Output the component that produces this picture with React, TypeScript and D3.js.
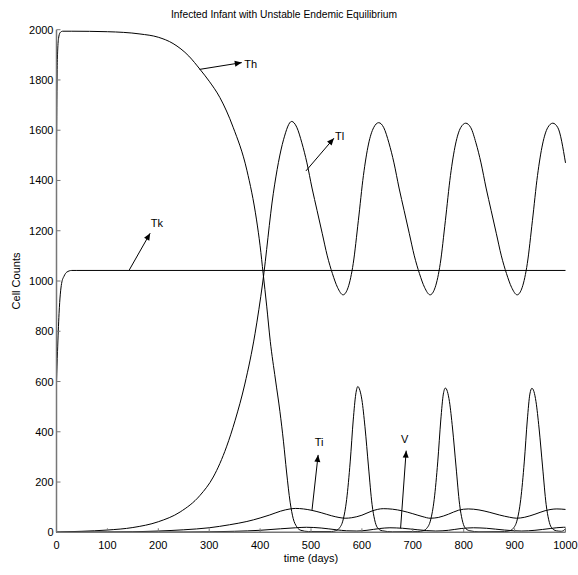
import React from "react";
import * as d3 from "d3";

const W = 578;
const H = 575;

const xTicks = [0, 100, 200, 300, 400, 500, 600, 700, 800, 900, 1000];
const yTicks = [0, 200, 400, 600, 800, 1000, 1200, 1400, 1600, 1800, 2000];

// Th (helper T cells)
const thDays = [0, 1, 2, 4, 7, 12, 30, 100, 164, 200, 229, 260, 282, 300, 321, 347, 374, 393, 400, 406, 413, 420, 430, 439, 446, 452, 459, 465, 472, 480, 495, 540,
  548, 555, 563, 570, 577, 583, 588, 592, 596, 600, 606, 613, 620, 625, 630, 640, 660, 710,
  720, 727, 735, 742, 749, 755, 760, 764, 768, 772, 778, 785, 792, 797, 802, 812, 830, 880,
  890, 897, 905, 912, 919, 925, 930, 934, 938, 942, 948, 955, 962, 967, 972, 982, 992, 1000];
const thCounts = [1500, 1780, 1900, 1965, 1988, 1994, 1994, 1992, 1983, 1970, 1945, 1895, 1842, 1795, 1730, 1612, 1441, 1243, 1140, 1030, 900, 760, 610, 480, 360, 240, 120, 55, 22, 8, 3, 3,
  6, 15, 49, 130, 280, 447, 550, 580, 565, 527, 420, 260, 110, 50, 20, 6, 2, 3,
  6, 15, 49, 130, 280, 447, 550, 574, 560, 520, 415, 260, 110, 50, 20, 6, 2, 3,
  6, 15, 49, 130, 280, 447, 550, 573, 560, 520, 415, 260, 110, 50, 20, 6, 4, 14];

// Tl
const tlDays = [0, 50, 100, 150, 200, 243, 282, 308, 334, 351, 370, 390, 405, 426, 446, 462,
  472, 482, 492, 502, 512, 522, 532, 542, 552, 563,
  573, 583, 593, 603, 613, 623, 633,
  643, 653, 663, 673, 683, 693, 703, 713, 723, 734,
  744, 754, 764, 774, 784, 794, 804,
  814, 824, 834, 844, 854, 864, 874, 884, 894, 905,
  915, 925, 935, 945, 955, 965, 975, 985, 1000];
const tlCounts = [1, 4, 9, 19, 42, 81, 147, 220, 340, 446, 590, 790, 992, 1349, 1562, 1635,
  1612, 1550, 1470, 1370, 1280, 1190, 1100, 1030, 975, 945,
  975, 1070, 1240, 1420, 1545, 1610, 1630,
  1610, 1550, 1470, 1370, 1280, 1190, 1100, 1030, 975, 945,
  975, 1070, 1240, 1420, 1545, 1610, 1628,
  1610, 1550, 1470, 1370, 1280, 1190, 1100, 1030, 975, 945,
  975, 1070, 1240, 1420, 1545, 1610, 1628, 1610, 1470];

// Tk
const tkDays = [0, 2, 5, 10, 15, 20, 30, 40, 1000];
const tkCounts = [600, 720, 870, 990, 1020, 1035, 1042, 1042, 1042];

// Ti
const tiDays = [0, 100, 150, 200, 250, 300, 340, 374, 400, 419, 440, 459, 470, 485, 500, 520, 540, 555, 567, 580, 600, 620, 642, 660, 680, 700, 720, 734, 750, 770, 790, 809, 830, 850, 870, 890, 904, 920, 940, 960, 983, 1000];
const tiCounts = [0, 1, 2, 5, 10, 18, 30, 43, 57, 69, 84, 93, 95, 93, 88, 78, 66, 59, 56, 58, 68, 85, 94, 92, 85, 74, 62, 56, 59, 72, 88, 93, 89, 80, 69, 60, 56, 60, 72, 86, 93, 91];

// V
const vDays = [0, 200, 300, 350, 400, 440, 470, 491, 520, 550, 570, 590, 610, 635, 655, 680, 710, 745, 770, 795, 819, 845, 880, 914, 940, 970, 996, 1000];
const vCounts = [0, 0.5, 2, 4, 8, 14, 18, 20, 17, 10, 6, 5, 8, 15, 18, 16, 10, 5, 8, 15, 18, 16, 9, 5, 8, 15, 20, 20];

const seriesNames = ["Th", "Tl", "Tk", "Ti", "V"];

// annotations in data units
const annoLabels = ["Th", "Tk", "Tl", "Ti", "V"];
const annoTail = [[281, 1842], [143, 1044], [490, 1438], [502, 89], [676, 16]];
const annoTip = [[364, 1869], [184, 1190], [545, 1568], [514, 308], [687, 325]];
const annoText = [[369, 1847], [185, 1215], [547, 1561], [516, 343], [684, 357]];
const annoAnchor = ["start", "start", "start", "middle", "middle"];

const FONT = "'Liberation Sans', Arial, sans-serif";

export default function App() {
  const x = d3.scaleLinear().domain([0, 1000]).range([56.5, 565.5]);
  const y = d3.scaleLinear().domain([0, 2000]).range([532.3, 29.7]);

  const line = d3
    .line<[number, number]>()
    .x((d) => x(d[0]))
    .y((d) => y(d[1]))
    .curve(d3.curveMonotoneX);

  const zip = (a: number[], b: number[]) => a.map((v, i) => [v, b[i]] as [number, number]);
  const series = [
    zip(thDays, thCounts),
    zip(tlDays, tlCounts),
    zip(tkDays, tkCounts),
    zip(tiDays, tiCounts),
    zip(vDays, vCounts),
  ];

  const arrowHead = (x1: number, y1: number, x2: number, y2: number) => {
    const ang = Math.atan2(y2 - y1, x2 - x1);
    const len = 7;
    const half = 3;
    const bx = x2 - len * Math.cos(ang);
    const by = y2 - len * Math.sin(ang);
    const px = -Math.sin(ang) * half;
    const py = Math.cos(ang) * half;
    return `${x2},${y2} ${bx + px},${by + py} ${bx - px},${by - py}`;
  };

  return (
    <svg
      width={W}
      height={H}
      style={{ position: "absolute", left: 0, top: 0, background: "#fff" }}
      fontFamily={FONT}
    >
      <rect x={0} y={0} width={W} height={H} fill="#fff" />
      <text x={284} y={18} textAnchor="middle" fontSize={11} textLength={226} lengthAdjust="spacingAndGlyphs">
        Infected Infant with Unstable Endemic Equilibrium
      </text>

      {series.map((s, i) => (
        <path key={seriesNames[i]} d={line(s) || ""} fill="none" stroke="#000" strokeWidth={1} />
      ))}

      <line x1={x(0)} x2={x(0)} y1={y(0)} y2={y(2000)} stroke="#777" strokeWidth={1.5} />
      <line x1={x(0)} x2={x(1000)} y1={y(0)} y2={y(0)} stroke="#777" strokeWidth={1.5} />
      {yTicks.map((t) => (
        <g key={"y" + t}>
          <line x1={x(0)} x2={x(0) + 4} y1={y(t)} y2={y(t)} stroke="#777" strokeWidth={1} />
          <text x={x(0) - 3} y={y(t) + 4} textAnchor="end" fontSize={11}>
            {t}
          </text>
        </g>
      ))}
      {xTicks.map((t) => (
        <g key={"x" + t}>
          <line x1={x(t)} x2={x(t)} y1={y(0)} y2={y(0) - 4} stroke="#777" strokeWidth={1} />
          <text x={x(t)} y={y(0) + 17} textAnchor="middle" fontSize={11}>
            {t}
          </text>
        </g>
      ))}
      <text x={311} y={562} textAnchor="middle" fontSize={11}>
        time (days)
      </text>
      <text transform={`translate(20,281) rotate(-90)`} textAnchor="middle" fontSize={11}>
        Cell Counts
      </text>

      {annoLabels.map((lab, i) => {
        const x1 = x(annoTail[i][0]);
        const y1 = y(annoTail[i][1]);
        const x2 = x(annoTip[i][0]);
        const y2 = y(annoTip[i][1]);
        return (
          <g key={"a" + lab}>
            <line x1={x1} y1={y1} x2={x2} y2={y2} stroke="#000" strokeWidth={1} />
            <polygon points={arrowHead(x1, y1, x2, y2)} fill="#000" />
            <text x={x(annoText[i][0])} y={y(annoText[i][1])} textAnchor={annoAnchor[i]} fontSize={11}>
              {lab}
            </text>
          </g>
        );
      })}
    </svg>
  );
}
